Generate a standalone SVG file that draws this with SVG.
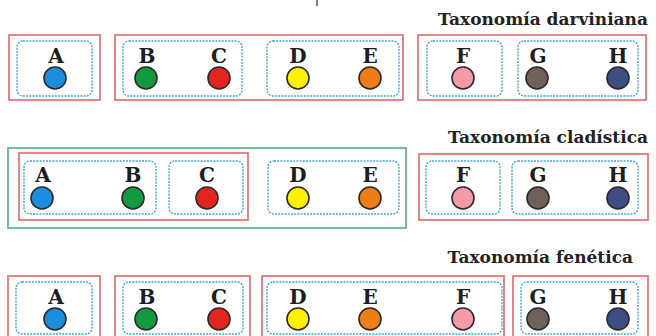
<svg xmlns="http://www.w3.org/2000/svg" width="656" height="336" viewBox="0 0 656 336">
  <style>
    .title { font-family: "DejaVu Serif", "Liberation Serif", serif; font-weight: bold; font-size: 17px; fill: #222; text-anchor: end; }
    .lbl { font-family: "DejaVu Serif", "Liberation Serif", serif; font-weight: bold; font-size: 20px; fill: #1e1e1e; text-anchor: middle; }
    .red { fill: none; stroke: #e06a6a; stroke-width: 1.6; }
    .green { fill: none; stroke: #55b077; stroke-width: 1.6; }
    .blue { fill: none; stroke: #4aa3d6; stroke-width: 1.4; stroke-dasharray: 2 1.2; }
    .dot { stroke: #2a2a2a; stroke-width: 1.6; }
    .cA { fill: #1b8fdb; } .cB { fill: #139a3f; } .cC { fill: #e2261f; } .cD { fill: #fff200; }
    .cE { fill: #ee7d15; } .cF { fill: #f39aa6; } .cG { fill: #6f605a; } .cH { fill: #3e4e82; }
  </style>

  <!-- small tick at the top edge -->
  <line x1="317" y1="0" x2="317" y2="6" stroke="#555" stroke-width="1.5"/>

  <!-- Row 1: Darwinian taxonomy -->
  <g id="darviniana">
    <text class="title" x="648" y="25">Taxonomía darviniana</text>
    <g id="connectors-1">
      <rect class="red" x="9" y="35" width="91" height="65"/>
      <rect class="red" x="115" y="35" width="288" height="65"/>
      <rect class="red" x="418" y="35" width="228" height="65"/>
      <rect class="blue" x="17" y="41" width="75" height="55" rx="6"/>
      <rect class="blue" x="123" y="41" width="119" height="55" rx="6"/>
      <rect class="blue" x="267" y="41" width="132" height="55" rx="6"/>
      <rect class="blue" x="427" y="41" width="75" height="55" rx="6"/>
      <rect class="blue" x="518" y="41" width="120" height="55" rx="6"/>
    </g>
    <g id="r1-A"><text class="lbl" x="56" y="63">A</text><circle class="dot cA" cx="55" cy="78" r="11"/></g>
    <g id="r1-B"><text class="lbl" x="147" y="63">B</text><circle class="dot cB" cx="146" cy="78" r="11"/></g>
    <g id="r1-C"><text class="lbl" x="219" y="63">C</text><circle class="dot cC" cx="219" cy="78" r="11"/></g>
    <g id="r1-D"><text class="lbl" x="298" y="63">D</text><circle class="dot cD" cx="298" cy="78" r="11"/></g>
    <g id="r1-E"><text class="lbl" x="370" y="63">E</text><circle class="dot cE" cx="370" cy="78" r="11"/></g>
    <g id="r1-F"><text class="lbl" x="463" y="63">F</text><circle class="dot cF" cx="463" cy="78" r="11"/></g>
    <g id="r1-G"><text class="lbl" x="538" y="63">G</text><circle class="dot cG" cx="537" cy="78" r="11"/></g>
    <g id="r1-H"><text class="lbl" x="618" y="63">H</text><circle class="dot cH" cx="618" cy="78" r="11"/></g>
  </g>

  <!-- Row 2: cladistic taxonomy -->
  <g id="cladistica">
    <text class="title" x="648" y="143">Taxonomía cladística</text>
    <g id="connectors-2">
      <rect class="green" x="8" y="148" width="398" height="80"/>
      <rect class="red" x="19" y="153" width="229" height="67"/>
      <rect class="red" x="419" y="154" width="229" height="66"/>
      <rect class="blue" x="24" y="161" width="132" height="53" rx="6"/>
      <rect class="blue" x="169" y="161" width="74" height="53" rx="6"/>
      <rect class="blue" x="268" y="161" width="131" height="53" rx="6"/>
      <rect class="blue" x="426" y="161" width="74" height="53" rx="6"/>
      <rect class="blue" x="512" y="161" width="126" height="53" rx="6"/>
    </g>
    <g id="r2-A"><text class="lbl" x="43" y="182">A</text><circle class="dot cA" cx="42" cy="198" r="11"/></g>
    <g id="r2-B"><text class="lbl" x="133" y="182">B</text><circle class="dot cB" cx="133" cy="198" r="11"/></g>
    <g id="r2-C"><text class="lbl" x="207" y="182">C</text><circle class="dot cC" cx="207" cy="198" r="11"/></g>
    <g id="r2-D"><text class="lbl" x="298" y="182">D</text><circle class="dot cD" cx="298" cy="198" r="11"/></g>
    <g id="r2-E"><text class="lbl" x="370" y="182">E</text><circle class="dot cE" cx="370" cy="198" r="11"/></g>
    <g id="r2-F"><text class="lbl" x="463" y="182">F</text><circle class="dot cF" cx="463" cy="198" r="11"/></g>
    <g id="r2-G"><text class="lbl" x="538" y="182">G</text><circle class="dot cG" cx="538" cy="198" r="11"/></g>
    <g id="r2-H"><text class="lbl" x="618" y="182">H</text><circle class="dot cH" cx="618" cy="198" r="11"/></g>
  </g>

  <!-- Row 3: phenetic taxonomy -->
  <g id="fenetica">
    <text class="title" x="633" y="263">Taxonomía fenética</text>
    <g id="connectors-3">
      <rect class="red" x="8" y="276" width="92" height="70"/>
      <rect class="red" x="115" y="276" width="135" height="70"/>
      <rect class="red" x="262" y="276" width="242" height="70"/>
      <rect class="red" x="513" y="276" width="135" height="70"/>
      <rect class="blue" x="16" y="282" width="76" height="52" rx="6"/>
      <rect class="blue" x="123" y="282" width="120" height="52" rx="6"/>
      <rect class="blue" x="267" y="282" width="235" height="52" rx="6"/>
      <rect class="blue" x="521" y="282" width="117" height="52" rx="6"/>
    </g>
    <g id="r3-A"><text class="lbl" x="56" y="304">A</text><circle class="dot cA" cx="55" cy="319" r="11"/></g>
    <g id="r3-B"><text class="lbl" x="147" y="304">B</text><circle class="dot cB" cx="146" cy="319" r="11"/></g>
    <g id="r3-C"><text class="lbl" x="219" y="304">C</text><circle class="dot cC" cx="219" cy="319" r="11"/></g>
    <g id="r3-D"><text class="lbl" x="298" y="304">D</text><circle class="dot cD" cx="298" cy="319" r="11"/></g>
    <g id="r3-E"><text class="lbl" x="370" y="304">E</text><circle class="dot cE" cx="370" cy="319" r="11"/></g>
    <g id="r3-F"><text class="lbl" x="463" y="304">F</text><circle class="dot cF" cx="463" cy="319" r="11"/></g>
    <g id="r3-G"><text class="lbl" x="538" y="304">G</text><circle class="dot cG" cx="538" cy="319" r="11"/></g>
    <g id="r3-H"><text class="lbl" x="618" y="304">H</text><circle class="dot cH" cx="618" cy="319" r="11"/></g>
  </g>
</svg>
